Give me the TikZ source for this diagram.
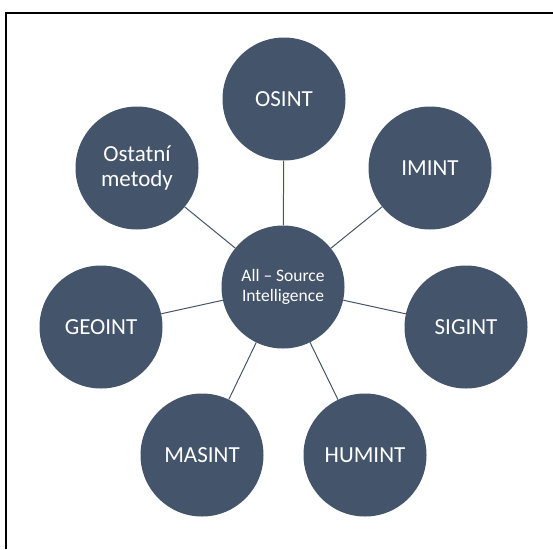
\documentclass[tikz,border=0pt]{standalone}
\usepackage{fontspec}
\setmainfont{Carlito}
\definecolor{nodeblue}{HTML}{44546A}
\begin{document}
\begin{tikzpicture}[x=1pt,y=-1pt,
  bubble/.style={circle,fill=nodeblue,minimum size=123pt,inner sep=0pt,text=white,
    font=\fontsize{23}{25}\selectfont,align=center},
  hub/.style={bubble,font=\fontsize{17.5}{20}\selectfont},
  link/.style={draw=nodeblue,line width=1pt}]
\useasboundingbox (0,0) rectangle (553,549);
\coordinate (fbl) at (6,549);
\coordinate (ftr) at (553,13);
\draw[line width=2pt,black] (fbl) |- (ftr);
\node[hub] (c) at (283,287) {All -- Source\\Intelligence};
\node[bubble] (osint) at (284,99) {OSINT};
\node[bubble] (imint) at (430,168) {IMINT};
\node[bubble] (sigint) at (466,327) {SIGINT};
\node[bubble] (humint) at (365,455) {HUMINT};
\node[bubble] (masint) at (202,455) {MASINT};
\node[bubble] (geoint) at (101,327) {GEOINT};
\node[bubble] (ost) at (137,168) {Ostatní\\metody};
\foreach \n in {osint,imint,sigint,humint,masint,geoint,ost}
  \draw[link] (c) -- (\n);
\end{tikzpicture}
\end{document}
